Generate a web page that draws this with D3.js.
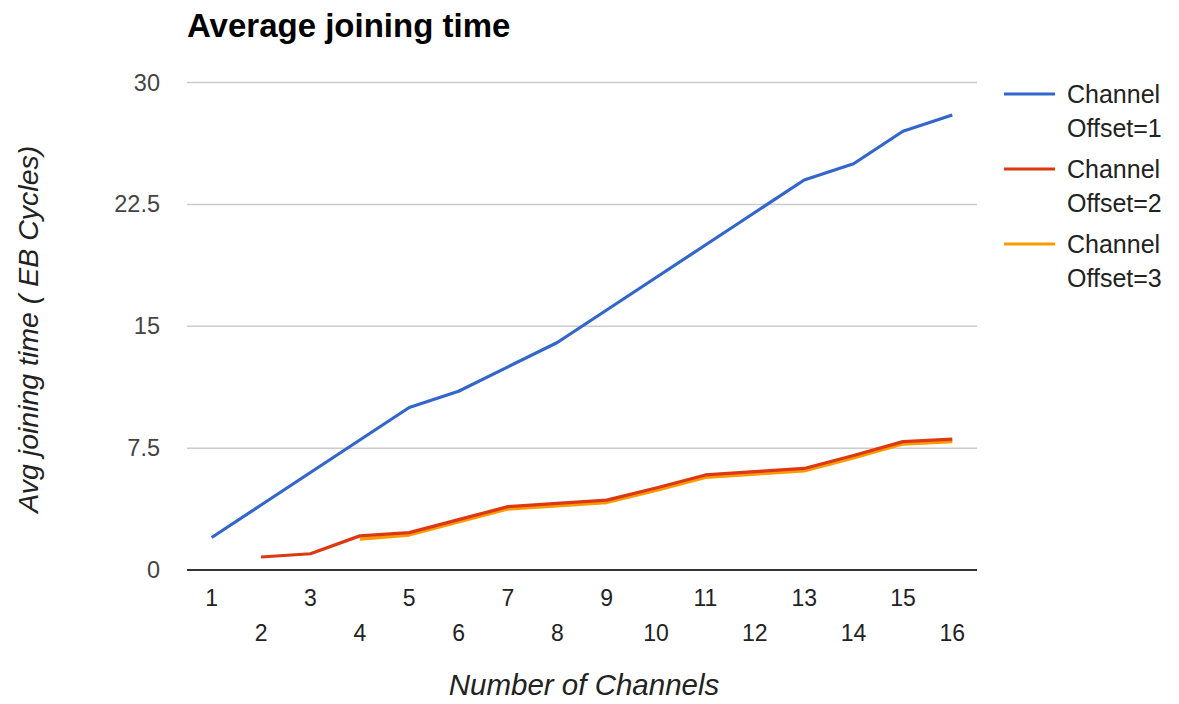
<!DOCTYPE html>
<html>
<head>
<meta charset="utf-8">
<script src="https://cdn.jsdelivr.net/npm/d3@7"></script>
<style>
  body { margin: 0; background: #fff; }
  svg { display: block; font-family: "Liberation Sans", Arial, sans-serif; }
</style>
</head>
<body>
<svg id="chart" width="1179" height="704"></svg>
<script>
const categories = ["1","2","3","4","5","6","7","8","9","10","11","12","13","14","15","16"];
const offset1 = [2, 4, 6, 8, 10, 11, 12.5, 14, 16, 18, 20, 22, 24, 25, 27, 28];
const offset2 = [null, 0.8, 1.0, 2.1, 2.3, 3.1, 3.9, 4.1, 4.3, 5.05, 5.85, 6.05, 6.25, 7.05, 7.9, 8.05];
const offset3 = [null, null, null, 1.9, 2.15, 2.95, 3.75, 3.95, 4.15, 4.9, 5.7, 5.9, 6.1, 6.9, 7.75, 7.9];
const yTicks = [0, 7.5, 15, 22.5, 30];
const seriesNames = ["Channel Offset=1", "Channel Offset=2", "Channel Offset=3"];
const colors = ["#3366cc", "#dc3912", "#ff9900"];

(function () {
const svg = d3.select("#chart");
const pLeft = 187, pRight = 977, pTop = 82.5, pBottom = 570;

const x = d3.scaleBand().domain(categories).range([pLeft, pRight]);
const y = d3.scaleLinear().domain([0, 30]).range([pBottom, pTop]);

// title
svg.append("text").attr("x", 187).attr("y", 37)
  .attr("font-size", 33).attr("font-weight", "bold").attr("fill", "#000")
  .text("Average joining time");

// gridlines
svg.append("g").selectAll("line").data(yTicks.filter(d => d !== 0)).join("line")
  .attr("x1", pLeft).attr("x2", pRight)
  .attr("y1", d => y(d)).attr("y2", d => y(d))
  .attr("stroke", "#cccccc").attr("stroke-width", 1.5);

// y axis labels
const yAxis = d3.axisLeft(y).tickValues(yTicks).tickSize(0).tickPadding(0).tickFormat(d => String(d));
const gy = svg.append("g").attr("transform", `translate(${pLeft - 27},0)`).call(yAxis);
gy.select(".domain").remove();
gy.selectAll("text").attr("font-size", 23.5).attr("fill", "#444").attr("font-family", "Liberation Sans, Arial, sans-serif");

// x axis labels (staggered)
const xAxis = d3.axisBottom(x).tickSize(0).tickPadding(0);
const gx = svg.append("g").attr("transform", `translate(0,${pBottom})`).call(xAxis);
gx.select(".domain").remove();
gx.selectAll("text")
  .attr("font-size", 23).attr("fill", "#222").attr("font-family", "Liberation Sans, Arial, sans-serif")
  .attr("dy", null)
  .attr("y", (d, i) => i % 2 === 0 ? 36 : 71);

// baseline
svg.append("line").attr("x1", pLeft).attr("x2", pRight)
  .attr("y1", y(0)).attr("y2", y(0))
  .attr("stroke", "#333").attr("stroke-width", 2);

// lines
const line = d3.line()
  .defined(d => d.v !== null)
  .x(d => x(d.c) + x.bandwidth() / 2)
  .y(d => y(d.v));

const series = [offset1, offset3, offset2];
const seriesColors = [colors[0], colors[2], colors[1]];
series.forEach((vals, si) => {
  const data = categories.map((c, i) => ({ c, v: vals[i] }));
  svg.append("path").datum(data)
    .attr("fill", "none")
    .attr("stroke", seriesColors[si])
    .attr("stroke-width", 3.2)
    .attr("stroke-linejoin", "round")
    .attr("d", line);
});

// axis titles
svg.append("text")
  .attr("transform", `translate(38,${(pTop + pBottom) / 2 + 3}) rotate(-90)`)
  .attr("text-anchor", "middle").attr("font-size", 28.5).attr("font-style", "italic").attr("fill", "#222")
  .text("Avg joining time ( EB Cycles)");

svg.append("text")
  .attr("x", (pLeft + pRight) / 2 + 2).attr("y", 695)
  .attr("text-anchor", "middle").attr("font-size", 29.5).attr("font-style", "italic").attr("fill", "#222")
  .text("Number of Channels");

// legend
const legend = svg.append("g");
seriesNames.forEach((name, i) => {
  const ly = 94 + i * 75;
  legend.append("line").attr("x1", 1004).attr("x2", 1055).attr("y1", ly).attr("y2", ly)
    .attr("stroke", colors[i]).attr("stroke-width", 3.2);
  const parts = name.split(" ");
  const t = legend.append("text").attr("x", 1067).attr("font-size", 25).attr("fill", "#222");
  t.append("tspan").attr("x", 1067).attr("y", ly + 9).text(parts[0]);
  t.append("tspan").attr("x", 1067).attr("y", ly + 43).text(parts[1]);
});
})();
</script>
</body>
</html>
